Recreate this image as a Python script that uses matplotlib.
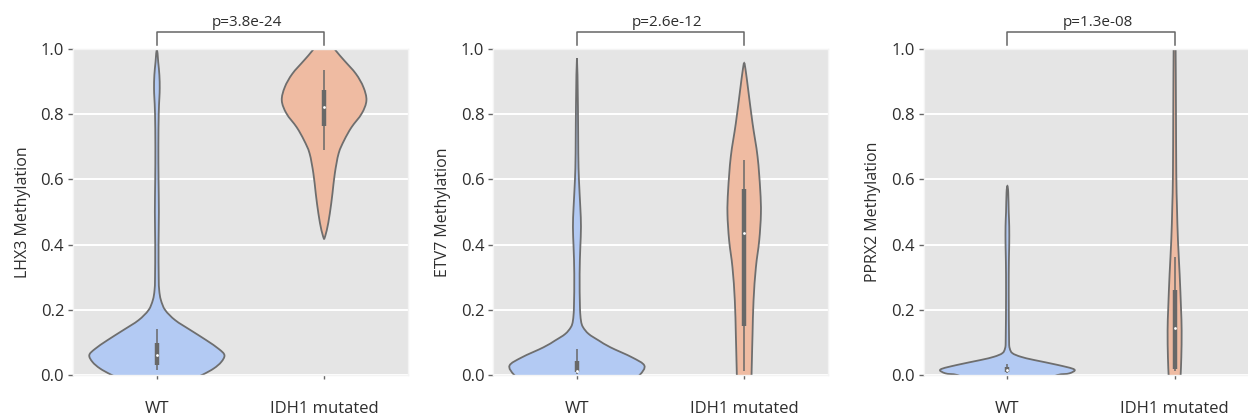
import matplotlib
matplotlib.use('Agg')
import matplotlib.pyplot as plt
from matplotlib.path import Path
from matplotlib.patches import PathPatch
import numpy as np

plt.rcParams['font.family'] = ['Open Sans', 'DejaVu Sans']

# ---------------- data ----------------
genes = ['LHX3', 'ETV7', 'PPRX2']
pvalues = ['p=3.8e-24', 'p=2.6e-12', 'p=1.3e-08']
categories = ['WT', 'IDH1 mutated']

# violin outlines: methylation level (y) and half-width of density (x units)
lhx3_wt_y = [-0.03, 0.0, 0.02, 0.04, 0.061, 0.08, 0.107, 0.138, 0.168, 0.199, 0.23, 0.26,
             0.3, 0.4, 0.5, 0.6, 0.7, 0.8, 0.85, 0.88, 0.92, 0.96, 1.0]
lhx3_wt_w = [0.15, 0.27, 0.34, 0.385, 0.404, 0.37, 0.295, 0.20, 0.11, 0.05, 0.024, 0.014,
             0.011, 0.01, 0.012, 0.01, 0.009, 0.011, 0.015, 0.017, 0.015, 0.008, 0.0]
lhx3_mut_y = [0.416, 0.444, 0.495, 0.557, 0.618, 0.68, 0.72, 0.76, 0.802, 0.842, 0.883,
              0.924, 0.965, 0.995, 1.03]
lhx3_mut_w = [0.0, 0.016, 0.034, 0.05, 0.064, 0.087, 0.12, 0.164, 0.225, 0.253, 0.235,
              0.19, 0.12, 0.07, 0.02]

etv7_wt_y = [-0.03, 0.0, 0.029, 0.054, 0.085, 0.106, 0.126, 0.147, 0.167, 0.208, 0.31,
             0.39, 0.454, 0.516, 0.598, 0.68, 0.82, 0.972]
etv7_wt_w = [0.3, 0.375, 0.403, 0.33, 0.2, 0.13, 0.07, 0.036, 0.024, 0.018, 0.016,
             0.02, 0.024, 0.02, 0.012, 0.008, 0.006, 0.0]
etv7_mut_y = [-0.03, 0.0, 0.044, 0.126, 0.229, 0.33, 0.413, 0.495, 0.567, 0.67, 0.772,
              0.875, 0.93, 0.957]
etv7_mut_w = [0.043, 0.044, 0.046, 0.05, 0.056, 0.07, 0.09, 0.1, 0.096, 0.08, 0.05,
              0.024, 0.01, 0.0]

pprx2_wt_y = [-0.02, 0.0, 0.005, 0.017, 0.031, 0.046, 0.056, 0.067, 0.082, 0.108, 0.25,
              0.35, 0.4, 0.456, 0.5, 0.56, 0.58]
pprx2_wt_w = [0.2, 0.3, 0.37, 0.40, 0.30, 0.16, 0.08, 0.03, 0.014, 0.01, 0.008,
              0.009, 0.011, 0.011, 0.008, 0.005, 0.0]
pprx2_mut_y = [-0.03, 0.0, 0.054, 0.136, 0.208, 0.31, 0.413, 0.516, 0.618, 0.82, 0.996, 1.03]
pprx2_mut_w = [0.034, 0.036, 0.04, 0.042, 0.038, 0.03, 0.02, 0.014, 0.01, 0.008, 0.006, 0.004]

# box statistics: whisker low, q1, median, q3, whisker high
lhx3_wt_box = [0.015, 0.03, 0.061, 0.098, 0.14]
lhx3_mut_box = [0.689, 0.764, 0.822, 0.875, 0.936]
etv7_wt_box = [0.003, 0.008, 0.013, 0.044, 0.08]
etv7_mut_box = [0.013, 0.149, 0.436, 0.572, 0.66]
pprx2_wt_box = [0.005, 0.01, 0.015, 0.026, 0.035]
pprx2_mut_box = [0.013, 0.018, 0.145, 0.26, 0.362]

profiles = [
    [(lhx3_wt_y, lhx3_wt_w, lhx3_wt_box), (lhx3_mut_y, lhx3_mut_w, lhx3_mut_box)],
    [(etv7_wt_y, etv7_wt_w, etv7_wt_box), (etv7_mut_y, etv7_mut_w, etv7_mut_box)],
    [(pprx2_wt_y, pprx2_wt_w, pprx2_wt_box), (pprx2_mut_y, pprx2_mut_w, pprx2_mut_box)],
]

colors = ['#b3caf3', '#efbba2']
edge_color = '#6e6e6e'
box_color = '#686868'
text_color = '#2e2e2e'


def smooth_outline(pts):
    """Catmull-Rom curve through the outline points as cubic Bezier path."""
    pts = np.asarray(pts, dtype=float)
    n = len(pts)
    verts = [pts[0]]
    codes = [Path.MOVETO]
    for i in range(n - 1):
        p0 = pts[i - 1] if i > 0 else pts[i]
        p1 = pts[i]
        p2 = pts[i + 1]
        p3 = pts[i + 2] if i + 2 < n else pts[i + 1]
        c1 = p1 + (p2 - p0) / 6.0
        c2 = p2 - (p3 - p1) / 6.0
        verts += [c1, c2, p2]
        codes += [Path.CURVE4] * 3
    verts.append(pts[0])
    codes.append(Path.CLOSEPOLY)
    return Path(verts, codes)


fig = plt.figure(figsize=(12.48, 4.17), dpi=100)
lefts = [0.0587, 0.3953, 0.7402]
width = 0.268
bottom = 0.1007
height = 0.7818

for k, gene in enumerate(genes):
    ax = fig.add_axes([lefts[k], bottom, width, height])
    ax.set_facecolor('#e5e5e5')
    ax.grid(axis='y', color='white', lw=1.4)
    ax.grid(axis='x', visible=False)
    ax.set_axisbelow(True)
    for s in ax.spines.values():
        s.set_color('#f4f4f4')
        s.set_linewidth(1.0)

    for pos, (ys, ws, box) in enumerate(profiles[k]):
        ys = np.asarray(ys)
        ws = np.asarray(ws)
        right = np.column_stack([pos + ws, ys])
        left = np.column_stack([pos - ws, ys])[::-1]
        if ws[-1] == 0:
            left = left[1:]
        outline = np.vstack([right, left])
        patch = PathPatch(smooth_outline(outline), facecolor=colors[pos],
                          edgecolor=edge_color, lw=1.3, zorder=2)
        ax.add_patch(patch)
        lo, q1, med, q3, hi = box
        ax.plot([pos, pos], [lo, hi], color=box_color, lw=1.1, zorder=3,
                solid_capstyle='butt')
        ax.plot([pos, pos], [q1, q3], color=box_color, lw=3.2, zorder=3,
                solid_capstyle='butt')
        ax.plot([pos], [med], marker='o', color='white', markersize=2.0,
                markeredgewidth=0, zorder=4)

    ax.set_xlim(-0.5, 1.5)
    ax.set_ylim(0, 1.0)
    ax.set_xticks([0, 1])
    ax.set_xticklabels(categories)
    ax.set_yticks([0, 0.2, 0.4, 0.6, 0.8, 1.0])
    ax.set_yticklabels(['0.0', '0.2', '0.4', '0.6', '0.8', '1.0'])
    ax.tick_params(axis='x', length=3, width=1, color='#666666', pad=15.5,
                   labelsize=12, labelcolor=text_color)
    ax.tick_params(axis='y', length=3.5, width=1, color='#666666', pad=3,
                   labelsize=12, labelcolor=text_color)
    ax.set_ylabel(f'{gene} Methylation', fontsize=11.5, color=text_color, labelpad=7)

    # significance bracket
    ax.plot([0, 0, 1, 1], [1.012, 1.053, 1.053, 1.012], color='#666666', lw=1.1,
            clip_on=False)
    ax.text(0.54, 1.072, pvalues[k], ha='center', va='baseline', fontsize=11,
            color=text_color)

fig.savefig('out.png', dpi=100)
